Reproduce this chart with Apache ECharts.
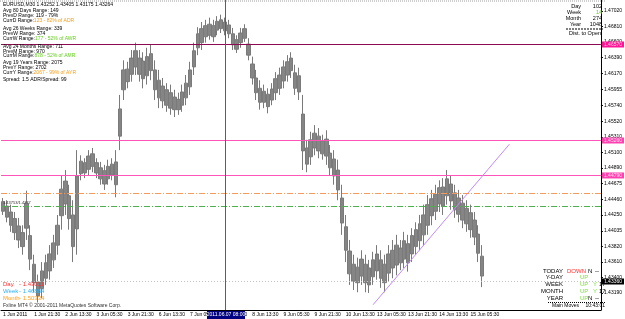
<!DOCTYPE html>
<html>
<head>
<meta charset="utf-8">
<script src="https://cdn.jsdelivr.net/npm/echarts@6/dist/echarts.min.js"></script>
<style>
html,body{margin:0;padding:0;background:#fff}
#chart{width:625px;height:319px}
</style>
</head>
<body>
<div id="chart"></div>
<script>
// EURUSD M30, one bar per 2 hours
var opens = [1.4443,1.4437,1.4429,1.4420,1.4410,1.4401,1.4441,1.4397,1.4358,1.4334,1.4349,1.4360,1.4372,1.4387,1.4411,1.4460,1.4471,1.4451,1.4425,1.4478,
  1.4498,1.4496,1.4505,1.4508,1.4496,1.4489,1.4485,1.4491,1.4494,1.4497,1.4569,1.4622,1.4623,1.4638,1.4648,1.4638,1.4634,1.4640,1.4644,1.4622,
  1.4608,1.4600,1.4595,1.4591,1.4585,1.4582,1.4592,1.4604,1.4622,1.4648,1.4671,1.4678,1.4682,1.4684,1.4682,1.4688,1.4690,1.4687,1.4683,1.4671,
  1.4663,1.4672,1.4678,1.4657,1.4630,1.4611,1.4597,1.4593,1.4589,1.4596,1.4610,1.4615,1.4626,1.4633,1.4638,1.4618,1.4614,1.4562,1.4516,1.4527,
  1.4536,1.4532,1.4525,1.4528,1.4509,1.4501,1.4486,1.4448,1.4409,1.4376,1.4358,1.4354,1.4365,1.4358,1.4353,1.4364,1.4372,1.4364,1.4358,1.4372,
  1.4377,1.4384,1.4380,1.4390,1.4386,1.4397,1.4405,1.4413,1.4425,1.4439,1.4447,1.4453,1.4462,1.4463,1.4474,1.4467,1.4455,1.4448,1.4441,1.4434,
  1.4428,1.4418,1.4399,1.4369];
var closes = [1.4430,1.4422,1.4411,1.4401,1.4391,1.4382,1.4407,1.4365,1.4333,1.4315,1.4325,1.4339,1.4349,1.4364,1.4384,1.4424,1.4440,1.4420,1.4382,1.4406,
  1.4481,1.4482,1.4487,1.4491,1.4482,1.4474,1.4467,1.4474,1.4479,1.4466,1.4532,1.4595,1.4606,1.4616,1.4626,1.4616,1.4610,1.4614,1.4621,1.4595,
  1.4584,1.4580,1.4574,1.4570,1.4568,1.4568,1.4574,1.4584,1.4599,1.4626,1.4652,1.4659,1.4667,1.4669,1.4667,1.4676,1.4678,1.4675,1.4671,1.4656,
  1.4650,1.4659,1.4665,1.4642,1.4611,1.4591,1.4578,1.4578,1.4572,1.4581,1.4591,1.4597,1.4607,1.4615,1.4621,1.4597,1.4592,1.4512,1.4494,1.4504,
  1.4516,1.4512,1.4508,1.4505,1.4489,1.4478,1.4459,1.4414,1.4377,1.4345,1.4335,1.4333,1.4342,1.4333,1.4330,1.4341,1.4349,1.4339,1.4333,1.4346,
  1.4353,1.4357,1.4360,1.4365,1.4360,1.4372,1.4382,1.4390,1.4398,1.4411,1.4424,1.4430,1.4440,1.4437,1.4451,1.4444,1.4432,1.4426,1.4418,1.4413,
  1.4405,1.4395,1.4373,1.4342];
var lows = [1.4425,1.4415,1.4402,1.4391,1.4380,1.4371,1.4391,1.4350,1.4320,1.4306,1.4312,1.4330,1.4337,1.4353,1.4371,1.4405,1.4425,1.4405,1.4361,1.4371,
  1.4472,1.4475,1.4479,1.4483,1.4475,1.4466,1.4459,1.4466,1.4472,1.4449,1.4513,1.4581,1.4597,1.4606,1.4615,1.4606,1.4597,1.4602,1.4608,1.4581,
  1.4570,1.4570,1.4565,1.4561,1.4558,1.4561,1.4565,1.4574,1.4588,1.4615,1.4642,1.4649,1.4659,1.4663,1.4660,1.4669,1.4672,1.4669,1.4665,1.4649,
  1.4645,1.4652,1.4660,1.4635,1.4602,1.4581,1.4568,1.4570,1.4563,1.4574,1.4581,1.4588,1.4597,1.4606,1.4611,1.4588,1.4581,1.4486,1.4483,1.4493,
  1.4506,1.4502,1.4500,1.4493,1.4479,1.4466,1.4445,1.4398,1.4361,1.4330,1.4323,1.4320,1.4330,1.4320,1.4319,1.4330,1.4337,1.4326,1.4320,1.4334,
  1.4339,1.4343,1.4350,1.4353,1.4348,1.4361,1.4371,1.4377,1.4384,1.4398,1.4411,1.4418,1.4429,1.4425,1.4439,1.4432,1.4421,1.4415,1.4407,1.4402,
  1.4394,1.4384,1.4361,1.4327];
var highs = [1.4448,1.4445,1.4439,1.4429,1.4421,1.4411,1.4458,1.4411,1.4371,1.4344,1.4361,1.4371,1.4384,1.4398,1.4425,1.4479,1.4486,1.4466,1.4445,1.4513,
  1.4506,1.4502,1.4513,1.4516,1.4502,1.4497,1.4493,1.4500,1.4502,1.4513,1.4588,1.4635,1.4633,1.4649,1.4659,1.4649,1.4646,1.4652,1.4656,1.4635,
  1.4622,1.4611,1.4604,1.4602,1.4595,1.4591,1.4602,1.4615,1.4633,1.4659,1.4680,1.4687,1.4690,1.4693,1.4690,1.4695,1.4697,1.4693,1.4690,1.4679,
  1.4669,1.4679,1.4684,1.4665,1.4640,1.4622,1.4608,1.4602,1.4597,1.4604,1.4619,1.4625,1.4635,1.4642,1.4646,1.4629,1.4625,1.4588,1.4527,1.4538,
  1.4547,1.4543,1.4534,1.4540,1.4520,1.4513,1.4500,1.4466,1.4425,1.4391,1.4371,1.4367,1.4377,1.4371,1.4364,1.4375,1.4384,1.4377,1.4371,1.4384,
  1.4391,1.4398,1.4391,1.4402,1.4398,1.4407,1.4415,1.4425,1.4439,1.4452,1.4459,1.4466,1.4472,1.4475,1.4486,1.4479,1.4466,1.4459,1.4452,1.4445,
  1.4439,1.4429,1.4411,1.4384];

// time axis: one label every 8 bars (16 hours)
var timeLabels = ['1 Jun 2011','1 Jun 21:30','2 Jun 13:30','3 Jun 05:30','3 Jun 21:30','6 Jun 13:30','7 Jun 05:30','7 Jun 21:30',
  '8 Jun 13:30','9 Jun 05:30','9 Jun 21:30','10 Jun 13:30','13 Jun 05:30','13 Jun 21:30','14 Jun 13:30','15 Jun 05:30'];
var barCount = 154;

// price scale labels
var priceTicks = [1.43190,1.43400,1.43610,1.43820,1.44035,1.44250,1.44460,1.44675,1.44890,1.45100,
  1.45310,1.45520,1.45740,1.45955,1.46170,1.46390,1.46600,1.46810,1.47020];

// levels (value, label text)
var dayLevel = 1.43011, weekLevel = 1.46884, monthLevel = 1.50334;
var maroonLevel = [1.46565, '1.46570'];
var pinkLevels = [[1.45261, '1.45260'], [1.44786, '1.44790']];
var orangeLevel = 1.44541, greenLevel = 1.44365;
var bidLevel = [1.43346, '1.43360'];
var cursorBar = 57;
var trendStart = [95, 1.4303], trendEnd = [130, 1.4521];

var cats = [];
for (var i = 0; i < barCount; i++) cats.push(String(i));
var candles = [];
for (var k = 0; k < opens.length; k++) candles.push([opens[k], closes[k], lows[k], highs[k]]);

var FONT = '"Liberation Sans", Arial, sans-serif';

function priceLabel(bg, color) {
  return {
    show: true, position: 'end', distance: 1, formatter: '{b}',
    backgroundColor: bg, color: color, fontSize: 5, fontFamily: FONT,
    padding: [1, 2, 0, 2]
  };
}
// one helper series per drawn level, so each keeps its own line style
function levelSeries(item, anchor, color, type, label) {
  return {
    type: 'line', data: [[0, anchor], [1, anchor]], symbol: 'none', silent: true,
    lineStyle: {opacity: 0}, z: 3,
    markLine: {
      silent: true, symbol: ['none', 'none'], precision: 5,
      lineStyle: {color: color, width: 1, type: type, opacity: color ? 1 : 0},
      label: label || {show: false},
      emphasis: {disabled: true},
      data: [item]
    }
  };
}

var levelSeriesList = [
  levelSeries({name: maroonLevel[1], yAxis: maroonLevel[0]}, maroonLevel[0], '#8b0a50', 'solid', priceLabel('#ff1493', '#ffd0ea')),
  levelSeries({name: pinkLevels[0][1], yAxis: pinkLevels[0][0]}, pinkLevels[0][0], '#ff55bb', 'solid', priceLabel('#ff40b0', '#ffe0f0')),
  levelSeries({name: pinkLevels[1][1], yAxis: pinkLevels[1][0]}, pinkLevels[1][0], '#ff55bb', 'solid', priceLabel('#ff40b0', '#ffe0f0')),
  levelSeries({yAxis: orangeLevel}, orangeLevel, '#f49a5a', [6, 2, 1, 2]),
  levelSeries({yAxis: greenLevel}, greenLevel, '#4cb04c', [6, 2, 1, 2]),
  levelSeries({name: bidLevel[1], yAxis: bidLevel[0]}, bidLevel[0], '#c0c0c0', [1, 2], priceLabel('#000000', '#ffffff')),
  levelSeries({name: dayLevel.toFixed(5), yAxis: dayLevel}, dayLevel, null, 'solid', priceLabel('#ff0000', '#ffffff')),
  levelSeries({xAxis: cursorBar}, dayLevel, '#5050d0', 'solid'),
  levelSeries([{coord: trendStart}, {coord: trendEnd}], dayLevel, '#c08cf0', 'solid')
];

function txt(x, y, text, size, fill, align, extra) {
  var o = {type: 'text', x: x, y: y, z: 50, silent: true,
    style: {text: text, fill: fill || '#000', font: size + 'px ' + FONT,
      align: align || 'left', verticalAlign: 'middle', textAlign: align || 'left', textVerticalAlign: 'middle'}};
  if (extra) o.style.rich = extra;
  return o;
}
function rich(size) {
  return {
    k: {fill: '#000', fontSize: size, fontFamily: FONT},
    o: {fill: '#f0a020', fontSize: size, fontFamily: FONT},
    g: {fill: '#66cc22', fontSize: size, fontFamily: FONT}
  };
}

var infoLines = [
  ['EURUSD,M30 1.43252 1.43405 1.43175 1.43264', 5],
  ['Avg 80 Days Range: 149', 10.7],
  ['PrevD Range: 119 - 79%', 15.7],
  ['{k|CurrD Range:}{o|123 - 82% of ADR}', 20.7],
  ['Avg 26 Weeks Range: 339', 29],
  ['PrevW Range: 374', 33.7],
  ['{k|CurrW Range:}{g|177 - 52% of AWR}', 38.3],
  ['Avg 24 Months Range: 711', 46.7],
  ['PrevM Range: 970', 51.3],
  ['{k|CurrM Range:}{g|878 - 52% of AMR}', 56],
  ['Avg 19 Years Range: 2075', 62.3],
  ['PrevY Range: 2702', 67.3],
  ['{k|CurrY Range:}{o|2067 - 99% of AYR}', 72.3],
  ['Spread: 1.5 ADR/Spread: 99', 80]
];

var graphics = [];
graphics.push({type: 'line', z: 40, silent: true, shape: {x1: 0, y1: 1, x2: 606, y2: 1}, style: {stroke: '#a0a0a0', lineWidth: 1, lineDash: [1, 1]}});
infoLines.forEach(function (l) {
  graphics.push(txt(3, l[1], l[0], 5, '#000', 'left', l[0].charAt(0) === '{' ? rich(5) : null));
});

// top right counters
var counters = [['Day', '102', '#000', 6], ['Week', '14', '#66cc22', 12.5], ['Month', '274', '#000', 18.5], ['Year', '1048', '#000', 24.5]];
counters.forEach(function (c) {
  graphics.push(txt(581, c[3], c[0], 5.5, '#000', 'right'));
  graphics.push(txt(602, c[3], c[1], 5.5, c[2], 'right'));
});
graphics.push({type: 'line', z: 40, silent: true, shape: {x1: 566, y1: 29, x2: 603, y2: 29}, style: {stroke: '#000', lineWidth: 1, lineDash: [2, 1]}});
graphics.push(txt(585, 33.5, 'Dist. to Open', 5.5, '#000', 'center'));

// bottom right trend table
var trendRows = [
  ['TODAY', 'DOWN', '#ff3030', 'N', '#000', '--', 271],
  ['Y-DAY', 'UP', '#80e040', '', '#000', '', 277.7],
  ['WEEK', 'UP', '#80e040', 'Y', '#80e040', '17', 284.5],
  ['MONTH', 'UP', '#80e040', 'Y', '#80e040', '17', 291.3],
  ['YEAR', 'UP', '#80e040', 'N', '#000', '--', 298]
];
trendRows.forEach(function (r) {
  graphics.push(txt(563, r[6], r[0], 6, '#000', 'right'));
  graphics.push(txt(r[1] === 'DOWN' ? 567 : 580, r[6], r[1], 6, r[2], 'left'));
  graphics.push(txt(r[3] === 'Y' ? 593 : 588, r[6], r[3], 6, r[4], 'left'));
  graphics.push(txt(r[3] === 'Y' ? 599 : 595, r[6], r[5], 6, '#000', 'left'));
});
graphics.push({type: 'line', z: 40, silent: true, shape: {x1: 548, y1: 302.5, x2: 606, y2: 302.5}, style: {stroke: '#000', lineWidth: 1, lineDash: [1, 1]}});
graphics.push(txt(552, 305.5, 'Main Moves', 5, '#000', 'left'));
graphics.push(txt(605, 305.5, '10:43:01', 5, '#000', 'right'));

// bottom left levels
var levelRows = [['Day', dayLevel, '#ff3030', 284], ['Week', weekLevel, '#30b0f0', 291], ['Month', monthLevel, '#ffa020', 298]];
levelRows.forEach(function (r) {
  graphics.push(txt(3, r[3], r[0], 6, r[2], 'left'));
  graphics.push(txt(19, r[3], '- ' + r[1].toFixed(5), 6, r[2], 'left'));
});
graphics.push(txt(3, 306, 'Fxline MT4 \u00a9 2001-2011 MetaQuotes Software Corp.', 5, '#303030', 'left'));
graphics.push(txt(3, 203, '1.43753/1.4377', 4, '#303030', 'left'));

// time cursor box on the axis
graphics.push({type: 'rect', z: 60, silent: true, shape: {x: 207, y: 311, width: 38, height: 8}, style: {fill: '#000080'}});
graphics.push(txt(226, 315, '2011.06.07 08:00', 5, '#ffffff', 'center'));
graphics[graphics.length - 1].z = 61;

var chart = echarts.init(document.getElementById('chart'), null, {renderer: 'canvas'});
chart.setOption({
  animation: false,
  backgroundColor: '#ffffff',
  grid: {left: 0, right: 19, top: 0, bottom: 9},
  xAxis: {
    type: 'category', data: cats, boundaryGap: true,
    axisLine: {lineStyle: {color: '#000', width: 1}},
    axisTick: {interval: 7, alignWithLabel: true, length: 2, lineStyle: {color: '#000'}},
    axisLabel: {
      interval: 7, align: 'left', margin: 2, fontSize: 5, fontFamily: FONT, color: '#000',
      formatter: function (v, idx) { return idx % 8 === 0 && timeLabels[idx / 8] ? timeLabels[idx / 8] : ''; }
    },
    splitLine: {show: false}
  },
  yAxis: {
    type: 'value', position: 'right', min: 1.42959, max: 1.47169,
    axisLine: {show: true, lineStyle: {color: '#000', width: 1}},
    axisTick: {show: true, length: 2, customValues: priceTicks, lineStyle: {color: '#000'}},
    axisLabel: {customValues: priceTicks, margin: 3, fontSize: 5, fontFamily: FONT, color: '#000',
      formatter: function (v) { return v.toFixed(5); }},
    splitLine: {show: false}
  },
  series: [{
    type: 'candlestick',
    data: candles,
    barWidth: 4,
    z: 2,
    itemStyle: {color: '#858585', color0: '#858585', borderColor: '#7a7a7a', borderColor0: '#7a7a7a', borderWidth: 1}
  }].concat(levelSeriesList),
  graphic: graphics
});
</script>
</body>
</html>
